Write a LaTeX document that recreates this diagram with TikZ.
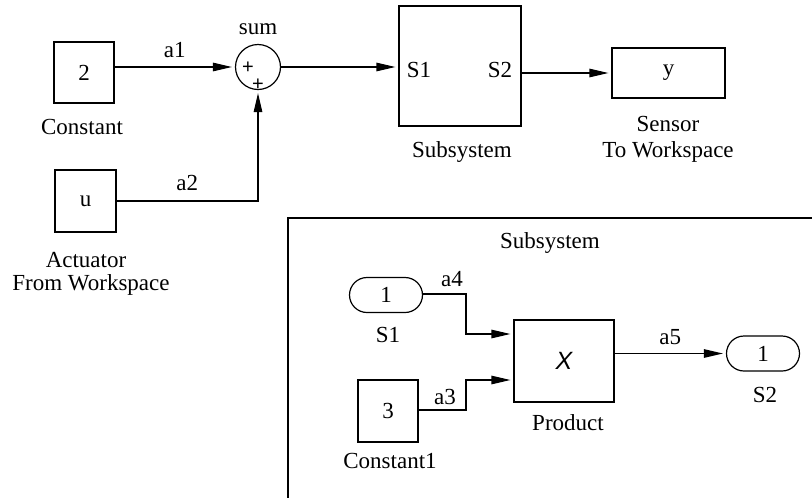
\documentclass[tikz,border=0pt]{standalone}
\usepackage{fontspec}
\setmainfont{Liberation Serif}
\newfontfamily\helv{Liberation Sans}
\usetikzlibrary{arrows.meta,calc}
\tikzset{
  blk/.style={draw, line width=1.2pt, inner sep=0pt, minimum width=#1},
  port/.style={draw, line width=1.2pt, inner sep=0pt, minimum width=73pt, minimum height=35pt, rounded corners=17.5pt},
  lbl/.style={anchor=base, inner sep=0pt},
  plus/.style={font=\helv\fontsize{20}{20}\selectfont, inner sep=0pt},
  wire/.style={line width=1.2pt},
  sig/.style={wire, -{Triangle[length=19pt,width=8.5pt]}, shorten >=3pt},
}
\begin{document}
\begin{tikzpicture}[x=1pt, y=-1pt, font=\fontsize{23}{27}\selectfont]
\useasboundingbox (0,0) rectangle (812,499);

% ---- top level model ----
\node[blk=60pt, minimum height=61pt] (const) at (84,72.5) {2};
\node[lbl] (constl) at (82,134) {Constant};

\node[blk=61pt, minimum height=62pt] (ws) at (85.5,201) {u};
\node[lbl] (wsl1) at (86,267) {Actuator};
\node[lbl] (wsl2) at (91,290) {From Workspace};

\node[draw, circle, line width=1.2pt, minimum size=45pt, inner sep=0pt] (sum) at (258,67) {};
\node[lbl] (suml) at (258,34) {sum};
\node[plus] (p1) at (248,68) {+};
\node[plus] (p2) at (258,85) {+};

\node[blk=122pt, minimum height=120pt] (sub) at (460,66) {};
\node[lbl] at (419,77) {S1};
\node[lbl] at (500,77) {S2};
\node[lbl] (subl) at (462,157) {Subsystem};

\node[blk=113pt, minimum height=50pt] (sens) at (668.5,73) {y};
\node[lbl] (sensl1) at (668,131) {Sensor};
\node[lbl] (sensl2) at (668,157) {To Workspace};

\draw[sig] (const.east |- sum.west) -- node[lbl, above=9pt] {a1} (sum.west);
\draw[sig] (ws.east) -- node[lbl, above=10pt] {a2} (ws.east -| sum.south) -- (sum.south);
\draw[sig] (sum.east) -- (sum.east -| sub.west);
\draw[sig] (sub.east |- sens.west) -- (sens.west);

% ---- contents of the subsystem ----
\draw[wire] (812,218) -- (288,218) -- (288,498);
\node[lbl] (ttl) at (550,248) {Subsystem};

\node[port] (in1) at (386,295) {1};
\node[lbl] (in1l) at (388,342) {S1};

\node[blk=60pt, minimum height=62pt] (c1) at (388,411) {3};
\node[lbl] (c1l) at (390,468) {Constant1};

\node[blk=100pt, minimum height=82pt] (prod) at (564,361) {\helv\itshape\fontsize{25}{25}\selectfont X};
\node[lbl] (prodl) at (568,430) {Product};

\node[port] (out1) at (763,353.5) {1};
\node[lbl] (out1l) at (765,402) {S2};

\coordinate (j4) at (466,294);
\coordinate (j3) at (466,410);
\draw[sig] (in1.east |- j4) -- (j4) -- (j4 |- 0,334) -- (prod.west |- 0,334);
\node[lbl] at (452,286) {a4};
\draw[sig] (c1.east |- j3) -- (j3) -- (j3 |- 0,380) -- (prod.west |- 0,380);
\node[lbl] at (445,404) {a3};
\draw[sig] (prod.east |- out1.west) -- node[lbl, above=8pt] {a5} (out1.west);
\end{tikzpicture}
\end{document}
